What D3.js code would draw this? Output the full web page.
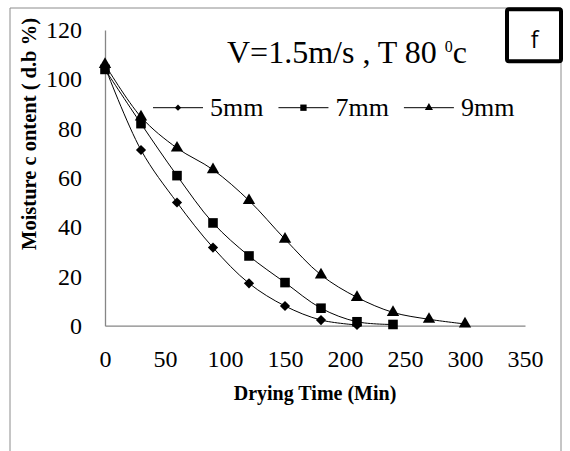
<!DOCTYPE html>
<html>
<head>
<meta charset="utf-8">
<script src="https://cdn.jsdelivr.net/npm/d3@7"></script>
<style>
    body { margin: 0; background: #fff; }
    svg { display: block; }
    .curve { fill: none; stroke: #000; stroke-width: 1; }
</style>
</head>
<body>
<svg id="chart-svg" width="570" height="451"></svg>
<script>
// drying time (min) and moisture content (d.b %) for each slice thickness
const times5 = [0, 30, 60, 90, 120, 150, 180, 210];
const moisture5 = [105, 71.3, 50, 31.7, 17.2, 8, 2.3, 0.3];

const times7 = [0, 30, 60, 90, 120, 150, 180, 210, 240];
const moisture7 = [104, 82, 60.9, 41.7, 28.3, 17.5, 7.1, 1.6, 0.5];

const times9 = [0, 30, 60, 90, 120, 150, 180, 210, 240, 270, 300];
const moisture9 = [106, 84.7, 72.1, 63.3, 50.8, 35.1, 20.6, 11.5, 5.4, 2.6, 0.7];

const seriesNames = ["5mm", "7mm", "9mm"];
const xTicks = [0, 50, 100, 150, 200, 250, 300, 350];
const yTicks = [0, 20, 40, 60, 80, 100, 120];

const SERIF = "'Liberation Serif', 'Times New Roman', Times, serif";

class DryingChart {

    constructor() {
        this.svg = d3.select("#chart-svg");
        this.xScale = d3.scaleLinear().domain([0, 350]).range([105, 525]);
        this.yScale = d3.scaleLinear().domain([0, 120]).range([325.7, 30]);
        this.symbols = [
            { type: d3.symbolSquare, rotate: 45, big: 52, small: 20 },
            { type: d3.symbolSquare, rotate: 0, big: 92, small: 40 },
            { type: d3.symbolTriangle, rotate: 0, big: 66, small: 28 }
        ];
    }

    draw() {
        this.drawFrame();
        this.drawAxes();
        let series = [
            { x: times5, y: moisture5 },
            { x: times7, y: moisture7 },
            { x: times9, y: moisture9 }
        ];
        series.forEach((s, i) => this.drawSeries(s, i));
        this.drawLegend();
        this.drawText();
    }

    drawFrame() {
        this.svg.append("path")
            .attr("d", "M10,451V8H561V451")
            .attr("fill", "none")
            .attr("stroke", "#8c8c8c")
            .attr("stroke-width", 1);
    }

    drawAxes() {
        const yAxis = d3.axisLeft(this.yScale).tickValues(yTicks).tickSize(0).tickPadding(23);
        const xAxis = d3.axisBottom(this.xScale).tickValues(xTicks).tickSize(0).tickPadding(24);

        this.svg.append("g").classed("axis", true)
            .attr("transform", "translate(105,0)")
            .call(yAxis);

        this.svg.append("g").classed("axis", true)
            .attr("transform", "translate(0,325.7)")
            .call(xAxis);

        this.svg.selectAll(".axis")
            .attr("font-family", SERIF)
            .attr("font-size", 24);
        this.svg.selectAll(".axis .domain")
            .attr("stroke", "#868686")
            .attr("stroke-width", 1.3);
    }

    drawSeries(s, i) {
        let pts = s.x.map((t, j) => [t, s.y[j]]);
        let lineGenerator = d3.line()
            .x(d => this.xScale(d[0]))
            .y(d => this.yScale(d[1]))
            .curve(d3.curveCatmullRom.alpha(0.5));

        this.svg.append("path")
            .attr("class", "curve")
            .attr("d", lineGenerator(pts));

        let sym = this.symbols[i];
        let shape = d3.symbol().type(sym.type).size(sym.big);
        this.svg.append("g").selectAll("path")
            .data(pts)
            .join("path")
            .attr("d", shape)
            .attr("fill", "#000")
            .attr("transform", d => "translate(" + this.xScale(d[0]) + "," + this.yScale(d[1]) + ") rotate(" + sym.rotate + ")");
    }

    drawLegend() {
        let g = this.svg.append("g");
        let x = 153;
        const ly = 107.7;
        seriesNames.forEach((name, i) => {
            let sym = this.symbols[i];
            g.append("line")
                .attr("x1", x).attr("x2", x + 50)
                .attr("y1", ly).attr("y2", ly)
                .attr("stroke", "#000");
            g.append("path")
                .attr("d", d3.symbol().type(sym.type).size(sym.small))
                .attr("transform", "translate(" + (x + 25) + "," + ly + ") rotate(" + sym.rotate + ")");
            let t = g.append("text")
                .attr("font-family", SERIF)
                .attr("x", x + 57)
                .attr("y", ly + 8)
                .attr("font-size", 26)
                .text(name);
            x = x + 57 + t.node().getComputedTextLength() + 15;
        });
    }

    drawText() {
        let note = this.svg.append("text")
            .attr("font-family", SERIF)
            .attr("x", 227)
            .attr("y", 63.3)
            .attr("font-size", 32);
        note.append("tspan").text("V=1.5m/s , T 80 ");
        note.append("tspan").attr("font-size", 16).attr("dy", -11).text("0");
        note.append("tspan").attr("dy", 11).text("c");

        this.svg.append("text")
            .attr("font-family", SERIF)
            .attr("x", 315)
            .attr("y", 400)
            .attr("text-anchor", "middle")
            .attr("font-weight", "bold")
            .attr("font-size", 20)
            .text("Drying Time (Min)");

        this.svg.append("text")
            .attr("font-family", SERIF)
            .attr("transform", "translate(36,134) rotate(-90)")
            .attr("text-anchor", "middle")
            .attr("font-weight", "bold")
            .attr("font-size", 20.5)
            .text("Moisture c ontent ( d.b %)");

        // panel letter box
        this.svg.append("rect")
            .attr("x", 507).attr("y", 9.3)
            .attr("width", 54).attr("height", 52)
            .attr("rx", 2)
            .attr("fill", "#fff")
            .attr("stroke", "#000")
            .attr("stroke-width", 4);
        this.svg.append("text")
            .attr("x", 534.5)
            .attr("y", 48)
            .attr("text-anchor", "middle")
            .attr("font-family", "'Open Sans', 'Liberation Sans', sans-serif")
            .attr("font-size", 23)
            .text("f");
    }
}

let chart = new DryingChart();
chart.draw();
</script>
</body>
</html>
